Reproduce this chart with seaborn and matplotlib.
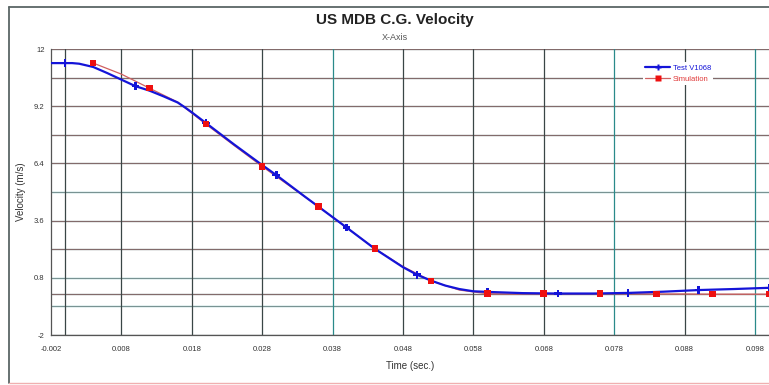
import numpy as np
import pandas as pd
import matplotlib
matplotlib.use("Agg")
import matplotlib.pyplot as plt
from matplotlib.lines import Line2D
import seaborn as sns

sns.set_style("white")
plt.rcParams['font.family'] = ['Liberation Sans', 'DejaVu Sans']

# test curve (blue)
test_t = [-0.002, 0.0, 0.001, 0.002, 0.004, 0.006, 0.008, 0.010, 0.012, 0.014, 0.016,
          0.017, 0.018, 0.020, 0.024, 0.028, 0.030, 0.034, 0.038, 0.040, 0.044, 0.048,
          0.050, 0.052, 0.054, 0.056, 0.058, 0.060, 0.065, 0.070, 0.075, 0.080, 0.085,
          0.090, 0.095, 0.100]
test_v = [11.31, 11.31, 11.31, 11.28, 11.12, 10.82, 10.50, 10.18, 9.96, 9.68, 9.38,
          9.15, 8.90, 8.38, 7.33, 6.32, 5.83, 4.79, 3.77, 3.26, 2.22, 1.32,
          0.95, 0.66, 0.42, 0.25, 0.14, 0.11, 0.05, 0.03, 0.03, 0.06, 0.12,
          0.20, 0.25, 0.31]
test_mark_t = [0.0, 0.01, 0.02, 0.03, 0.04, 0.05, 0.06, 0.07, 0.08, 0.09, 0.10]
test_mark_v = [11.31, 10.18, 8.38, 5.83, 3.26, 0.95, 0.11, 0.03, 0.06, 0.20, 0.31]

# simulation curve (red)
sim_t = [0.004, 0.008, 0.012, 0.016, 0.020, 0.024, 0.028, 0.032, 0.036, 0.040, 0.044,
         0.048, 0.052, 0.056, 0.060, 0.064, 0.068, 0.072, 0.076, 0.080, 0.084, 0.088,
         0.092, 0.096, 0.100]
sim_v = [11.31, 10.77, 10.08, 9.40, 8.32, 7.28, 6.25, 5.27, 4.29, 3.25, 2.23,
         1.35, 0.65, 0.20, 0.02, 0.01, 0.02, 0.02, 0.02, 0.02, 0.01, 0.01,
         0.00, 0.00, 0.00]
sim_mark_t = [0.004, 0.012, 0.020, 0.028, 0.036, 0.044, 0.052, 0.060, 0.068, 0.076,
              0.084, 0.092, 0.100]
sim_mark_v = [11.31, 10.08, 8.32, 6.25, 4.29, 2.23, 0.65, 0.02, 0.02, 0.02, 0.01, 0.00, 0.00]

x_ticks = [-0.002, 0.008, 0.018, 0.028, 0.038, 0.048, 0.058, 0.068, 0.078, 0.088, 0.098]
y_ticks = [12, 9.2, 6.4, 3.6, 0.8, -2]
y_grid = [12, 10.6, 9.2, 7.8, 6.4, 5.0, 3.6, 2.2, 0.8, 0.0, -0.6, -2]
x_grid = [0.0, 0.008, 0.018, 0.028, 0.038, 0.048, 0.058, 0.068, 0.078, 0.088, 0.098]

BLUE = '#1414d8'
RED = '#e03a3a'
DARK = '#3a4646'
TEAL = '#2a8a8a'

fig = plt.figure(figsize=(7.69, 3.85), dpi=100)
ax = fig.add_axes([51 / 769, 1 - 335 / 385, 718 / 769, 286 / 385])

# gridlines, alternating dark / teal like the original
y_cols = [DARK, DARK, DARK, DARK, DARK, TEAL, DARK, DARK, TEAL, DARK, TEAL, DARK]
for yv, c in zip(y_grid, y_cols):
    ax.axhline(yv, color=c, lw=0.9, zorder=0)
    ax.axhline(yv, color='#e8a0a0', lw=0.5, zorder=0, alpha=0.6)
x_cols = [DARK, DARK, DARK, DARK, TEAL, DARK, DARK, DARK, TEAL, DARK, TEAL]
for xv, c in zip(x_grid, x_cols):
    ax.axvline(xv, color=c, lw=0.9, zorder=0)

test = pd.DataFrame({'t': test_t, 'v': test_v})
sim = pd.DataFrame({'t': sim_t, 'v': sim_v})
sns.lineplot(data=sim, x='t', y='v', ax=ax, color='#d06060', lw=0.9, sort=False,
             estimator=None, zorder=3)
sns.lineplot(data=test, x='t', y='v', ax=ax, color=BLUE, lw=1.6, sort=False,
             estimator=None, zorder=4)
sns.scatterplot(x=test_mark_t, y=test_mark_v, ax=ax, marker='P', s=30, color=BLUE,
                edgecolor='none', zorder=5)
sns.scatterplot(x=sim_mark_t, y=sim_mark_v, ax=ax, marker='s', s=22, color='#ee1010',
                edgecolor='none', zorder=6)

ax.set_xlim(-0.002, 0.100)
ax.set_ylim(-2, 12)
ax.set_xticks(x_ticks)
ax.set_xticklabels([f'{v:.3f}' for v in x_ticks])
ax.set_yticks(y_ticks)
ax.set_yticklabels(['12', '9.2', '6.4', '3.6', '0.8', '-2'])
ax.tick_params(axis='both', labelsize=5.5, colors='#333333', length=3, width=0.8,
               direction='out')
ax.tick_params(axis='x', pad=5)
ax.tick_params(axis='y', pad=1.5)
for side in ['top', 'right']:
    ax.spines[side].set_visible(False)
for side in ['left', 'bottom']:
    ax.spines[side].set_color('#555555')
    ax.spines[side].set_linewidth(0.9)

ax.set_xlabel('Time (sec.)', fontsize=7, color='#333333', labelpad=6)
ax.set_ylabel('Velocity (m/s)', fontsize=7, color='#333333', labelpad=6)

fig.text(395 / 769, 1 - 20 / 385, 'US MDB C.G. Velocity', ha='center', va='center',
         fontsize=11, fontweight='bold', color='#222222')
fig.text(395 / 769, 1 - 38 / 385, 'X-Axis', ha='center', va='center',
         fontsize=6.5, color='#555555')

# outer frame: left and top grey, bottom faint pink
fig.add_artist(Line2D([9 / 769, 9 / 769], [2 / 385, 1 - 7 / 385], color='#5a6666', lw=1.3))
fig.add_artist(Line2D([9 / 769, 1], [1 - 7 / 385, 1 - 7 / 385], color='#5a6666', lw=1.3))
fig.add_artist(Line2D([9 / 769, 1], [2 / 385, 2 / 385], color='#f0b0b0', lw=1.0))

handles = [Line2D([], [], color=BLUE, lw=1.6, marker='P', markersize=5,
                  markeredgecolor='none'),
           Line2D([], [], color='#d06060', lw=0.9, marker='s', markersize=4,
                  markerfacecolor='#ee1010', markeredgecolor='none')]
leg = ax.legend(handles, ['Test V1068', 'Simulation'], loc='upper left',
                bbox_to_anchor=(643 / 769, 1 - 62 / 385), bbox_transform=fig.transFigure,
                frameon=True, fontsize=5.5, handlelength=3.2, handletextpad=0.4,
                labelspacing=0.5, borderpad=0.3, borderaxespad=0)
leg.get_frame().set_edgecolor('none')
leg.get_frame().set_facecolor('white')
leg.get_frame().set_alpha(1)
for txt, c in zip(leg.get_texts(), [BLUE, RED]):
    txt.set_color(c)

fig.savefig('out.png', dpi=100)
